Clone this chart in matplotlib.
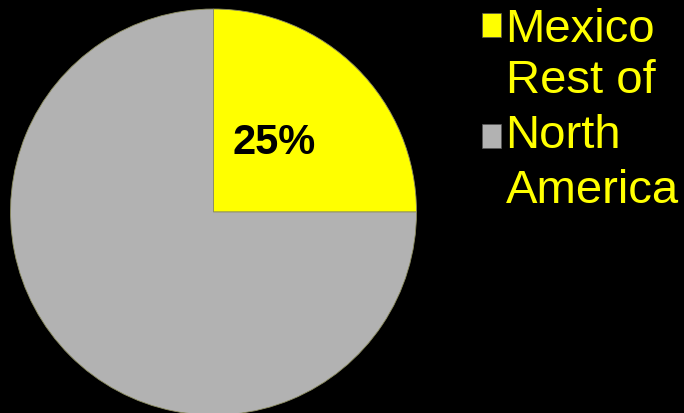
import matplotlib.pyplot as plt
import matplotlib.patches as mpatches

# data
regions = ['Mexico', 'Rest of\nNorth\nAmerica']
shares = [25, 75]
colors = ['#FFFF00', '#B2B2B2']

plt.rcParams['font.family'] = ['Liberation Sans', 'DejaVu Sans']

fig = plt.figure(figsize=(6.84, 4.13), dpi=100, facecolor='black')

# pie axes: centre at (213.5, 201) px from bottom-left, radius 203 px
cx, cy, r = 213.5, 201, 203
ax = fig.add_axes([(cx - r) / 684, (cy - r) / 413, 2 * r / 684, 2 * r / 413])
ax.set_facecolor('black')

wedges, texts, autotexts = ax.pie(
    shares, colors=colors, startangle=90, counterclock=False,
    autopct=lambda p: '%d%%' % round(p) if p < 50 else '',
    pctdistance=0.46,
    wedgeprops=dict(edgecolor='#8c8c60', linewidth=0.6),
    textprops=dict(fontsize=30, fontweight='bold', color='black'),
)
autotexts[0].set_position((0.30, 0.34))
ax.set_xlim(-1, 1)
ax.set_ylim(-1, 1)

# legend at the top right
handles = [mpatches.Patch(facecolor=c, edgecolor='#555555', linewidth=0.5) for c in colors]
leg = fig.legend(handles, regions, loc='upper left',
                 bbox_to_anchor=(482 / 684, 1 - 8 / 413),
                 frameon=False, fontsize=34, labelcolor='#FFFF00',
                 handlelength=0.4, handleheight=0.4, handletextpad=0.1,
                 labelspacing=0.15, borderpad=0, borderaxespad=0)
for t in leg.get_texts():
    t.set_linespacing(1.32)

fig.savefig('out.png', dpi=100, facecolor='black')
